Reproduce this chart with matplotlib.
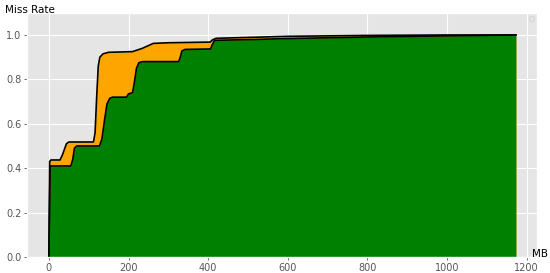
import numpy as np
import matplotlib
matplotlib.use("Agg")
import matplotlib.pyplot as plt

# upper curve (top of the orange band)
upper_mb = [0, 2, 5, 28, 34, 44, 50, 112, 116, 120, 124, 128, 136, 150, 210,
            235, 262, 300, 405, 411, 420, 500, 600, 800, 1000, 1173]
upper_rate = [0, 0.43, 0.437, 0.437, 0.46, 0.51, 0.518, 0.518, 0.56, 0.72, 0.86,
              0.9, 0.915, 0.922, 0.925, 0.94, 0.962, 0.965, 0.968, 0.978, 0.985,
              0.989, 0.994, 0.998, 1.0, 1.0]

# lower curve (top of the green area)
lower_mb = [0, 3, 55, 60, 64, 70, 127, 133, 140, 146, 153, 160, 195, 200, 210,
            215, 220, 226, 235, 326, 330, 334, 342, 406, 410, 416, 500, 600,
            800, 1000, 1173]
lower_rate = [0, 0.41, 0.41, 0.44, 0.49, 0.5, 0.5, 0.53, 0.62, 0.69, 0.715, 0.72,
              0.72, 0.735, 0.74, 0.79, 0.85, 0.875, 0.88, 0.88, 0.9, 0.928, 0.935,
              0.937, 0.955, 0.976, 0.979, 0.984, 0.991, 0.996, 1.0]

x_ticks = [0, 200, 400, 600, 800, 1000, 1200]
y_ticks = [0.0, 0.2, 0.4, 0.6, 0.8, 1.0]

plt.style.use("ggplot")
fig = plt.figure(figsize=(5.5, 2.73), dpi=100)
ax = fig.add_axes([27 / 550, 16 / 273, 510 / 550, 244 / 273])

ax.fill_between(upper_mb, 0, upper_rate, color="orange", lw=0)
ax.fill_between(lower_mb, 0, lower_rate, color="green", lw=0)
ax.plot(upper_mb, upper_rate, color="black", lw=1.2)
ax.plot(lower_mb, lower_rate, color="black", lw=1.2)

ax.set_xlim(-55, 1226)
ax.set_ylim(0, 1.099)
ax.set_xticks(x_ticks)
ax.set_yticks(y_ticks)
ax.set_yticklabels(["0.0", "0.2", "0.4", "0.6", "0.8", "1.0"])
ax.tick_params(labelsize=7, colors="#555555", length=2, width=0.6, pad=2)
ax.grid(True, color="white", lw=0.8)
ax.set_axisbelow(True)

leg = ax.legend(loc="upper right", fontsize=5, borderpad=0.3)

fig.text(5 / 550, 1 - 10 / 273, "Miss Rate", fontsize=7.5, va="center", ha="left")
fig.text(532 / 550, 1 - 254 / 273, "MB", fontsize=7.5, va="center", ha="left")

fig.savefig("out.png", dpi=100)
